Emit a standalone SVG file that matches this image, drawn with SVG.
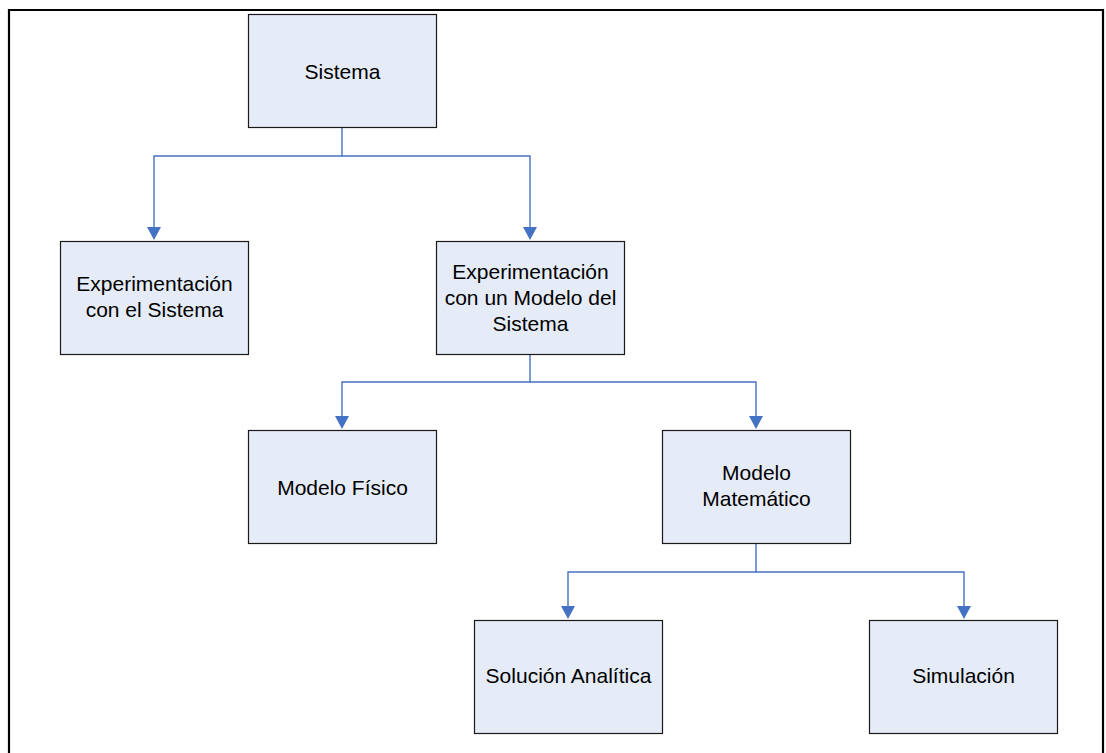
<svg xmlns="http://www.w3.org/2000/svg" width="1106" height="753" viewBox="0 0 1106 753">
<style>
.box{fill:#E6ECF7;stroke:#1a1a1a;stroke-width:1.2}
.t{font-family:"Liberation Sans",Arial,sans-serif;font-size:21px;fill:#000;text-anchor:middle}
.c{fill:none;stroke:#4472C4;stroke-width:1.4}
.ah{fill:#4472C4}
</style>
<rect width="1106" height="753" fill="#fff"/>
<path d="M9,760 V10 H1103 V760" fill="none" stroke="#000" stroke-width="2.2"/>
<g id="connectors">
<path class="c" d="M342,128 V156 H154 V228"/>
<path class="c" d="M342,156 H530 V228"/>
<path class="ah" d="M147,227 H161 L154,240 Z"/>
<path class="ah" d="M523,227 H537 L530,240 Z"/>
<path class="c" d="M530,354 V382 H342 V417"/>
<path class="c" d="M530,382 H756 V417"/>
<path class="ah" d="M335,416 H349 L342,429 Z"/>
<path class="ah" d="M749,416 H763 L756,429 Z"/>
<path class="c" d="M756,543 V572 H568 V607"/>
<path class="c" d="M756,572 H964 V607"/>
<path class="ah" d="M561,606 H575 L568,619 Z"/>
<path class="ah" d="M957,606 H971 L964,619 Z"/>
</g>
<g id="sistema">
<rect class="box" x="248.5" y="14.5" width="188" height="113"/>
<text class="t" x="342.5" y="79">Sistema</text>
</g>
<g id="exp-sistema">
<rect class="box" x="60.5" y="241.5" width="188" height="113"/>
<text class="t" x="154.5" y="291">Experimentación</text>
<text class="t" x="154.5" y="317">con el Sistema</text>
</g>
<g id="exp-modelo">
<rect class="box" x="436.5" y="241.5" width="188" height="113"/>
<text class="t" x="530.5" y="279">Experimentación</text>
<text class="t" x="530.5" y="305">con un Modelo del</text>
<text class="t" x="530.5" y="331">Sistema</text>
</g>
<g id="modelo-fisico">
<rect class="box" x="248.5" y="430.5" width="188" height="113"/>
<text class="t" x="342.5" y="495">Modelo Físico</text>
</g>
<g id="modelo-matematico">
<rect class="box" x="662.5" y="430.5" width="188" height="113"/>
<text class="t" x="756.5" y="480">Modelo</text>
<text class="t" x="756.5" y="506">Matemático</text>
</g>
<g id="solucion-analitica">
<rect class="box" x="474.5" y="620.5" width="188" height="113"/>
<text class="t" x="568.5" y="683">Solución Analítica</text>
</g>
<g id="simulacion">
<rect class="box" x="869.5" y="620.5" width="188" height="113"/>
<text class="t" x="963.5" y="683">Simulación</text>
</g>
</svg>
